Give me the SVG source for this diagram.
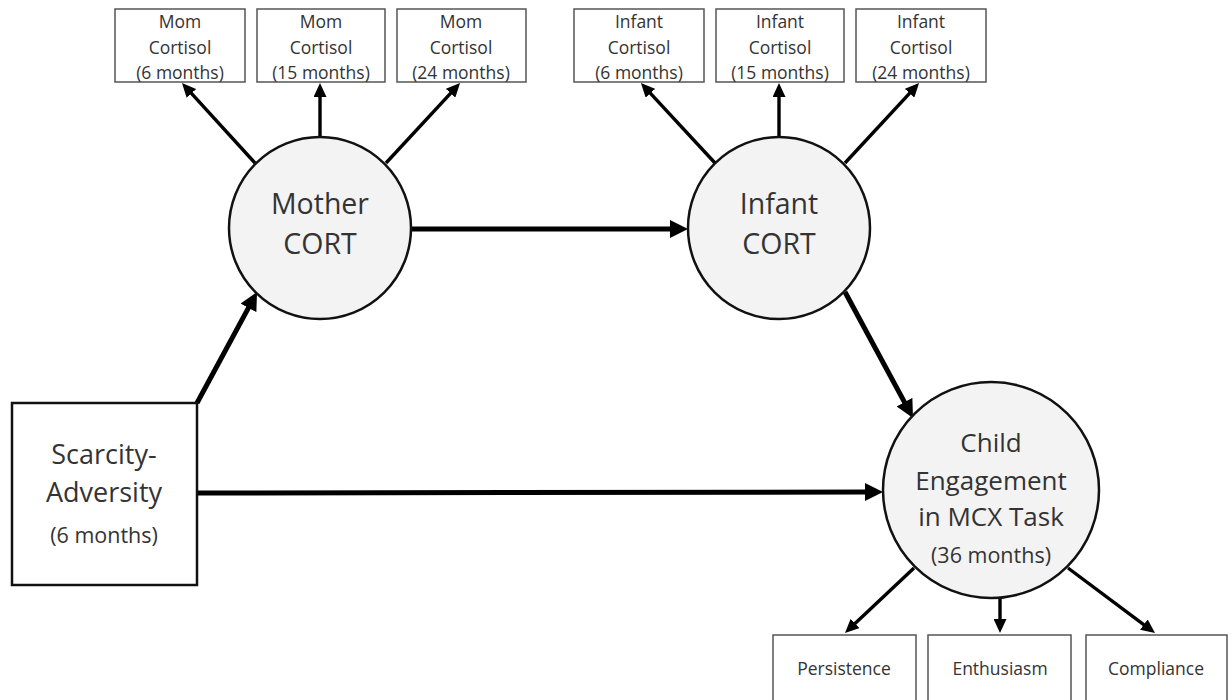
<svg xmlns="http://www.w3.org/2000/svg" width="1232" height="700" viewBox="0 0 1232 700">
<style>
text{font-family:"Open Sans","Noto Sans","DejaVu Sans",sans-serif;fill:#333;text-anchor:middle;dominant-baseline:central}
.box{fill:#fff;stroke:#555;stroke-width:1.5}
.bigbox{fill:#fff;stroke:#111;stroke-width:2.5}
.circ{fill:#f3f3f3;stroke:#111;stroke-width:2.5}
.thick{stroke:#000;stroke-width:5;fill:none;marker-end:url(#hb)}
.thin{stroke:#000;stroke-width:3.4;fill:none;marker-end:url(#hs)}
.s{font-size:17.5px}
.l{font-size:28.5px}
.sc{font-size:27px}
.m{font-size:26px}
.ms{font-size:21.5px}
</style>
<defs>
<marker id="hb" markerUnits="userSpaceOnUse" markerWidth="20" markerHeight="18" refX="2" refY="9" orient="auto"><path d="M0,0 L18,9 L0,18 z" fill="#000"/></marker>
<marker id="hs" markerUnits="userSpaceOnUse" markerWidth="15" markerHeight="13" refX="2" refY="6.5" orient="auto"><path d="M0,0 L14,6.5 L0,13 z" fill="#000"/></marker>
</defs>
<rect width="1232" height="700" fill="#fff"/>
<g id="connectors">
<line class="thick" x1="197" y1="403" x2="249.4" y2="306.1"/>
<line class="thick" x1="411" y1="229" x2="672" y2="229"/>
<line class="thick" x1="845" y1="292" x2="905.4" y2="403.9"/>
<line class="thick" x1="197" y1="493" x2="867" y2="492"/>
<line class="thin" x1="255" y1="163" x2="190.1" y2="91.9"/>
<line class="thin" x1="320" y1="138" x2="320" y2="95"/>
<line class="thin" x1="386" y1="163" x2="451.9" y2="91.8"/>
<line class="thin" x1="715" y1="163" x2="649.1" y2="91.8"/>
<line class="thin" x1="779" y1="138" x2="779" y2="95"/>
<line class="thin" x1="845" y1="163" x2="910.9" y2="91.8"/>
<line class="thin" x1="914" y1="568" x2="853.7" y2="624.8"/>
<line class="thin" x1="1000" y1="595" x2="1000" y2="621"/>
<line class="thin" x1="1068" y1="568" x2="1145.4" y2="625.8"/>
</g>
<g id="mom6"><rect class="box" x="115" y="9" width="130" height="73"/><text class="s" x="180" y="21">Mom</text><text class="s" x="180" y="47">Cortisol</text><text class="s" x="180" y="72">(6 months)</text></g>
<g id="mom15"><rect class="box" x="257" y="9" width="128" height="73"/><text class="s" x="321" y="21">Mom</text><text class="s" x="321" y="47">Cortisol</text><text class="s" x="321" y="72">(15 months)</text></g>
<g id="mom24"><rect class="box" x="397" y="9" width="129" height="73"/><text class="s" x="461" y="21">Mom</text><text class="s" x="461" y="47">Cortisol</text><text class="s" x="461" y="72">(24 months)</text></g>
<g id="inf6"><rect class="box" x="574" y="9" width="130" height="73"/><text class="s" x="639" y="21">Infant</text><text class="s" x="639" y="47">Cortisol</text><text class="s" x="639" y="72">(6 months)</text></g>
<g id="inf15"><rect class="box" x="716" y="9" width="128" height="73"/><text class="s" x="780" y="21">Infant</text><text class="s" x="780" y="47">Cortisol</text><text class="s" x="780" y="72">(15 months)</text></g>
<g id="inf24"><rect class="box" x="856" y="9" width="130" height="73"/><text class="s" x="921" y="21">Infant</text><text class="s" x="921" y="47">Cortisol</text><text class="s" x="921" y="72">(24 months)</text></g>
<g id="mother"><circle class="circ" cx="320" cy="228" r="91"/><text class="l" x="320" y="203">Mother</text><text class="l" x="320" y="243">CORT</text></g>
<g id="infant"><circle class="circ" cx="779" cy="228" r="91"/><text class="l" x="779" y="203">Infant</text><text class="l" x="779" y="243">CORT</text></g>
<g id="scarcity"><rect class="bigbox" x="12" y="403" width="185" height="182"/><text class="sc" x="104" y="453">Scarcity-</text><text class="sc" x="104" y="491">Adversity</text><text class="ms" x="104" y="534">(6 months)</text></g>
<g id="child"><circle class="circ" cx="991" cy="490" r="108"/><text class="m" x="991" y="442">Child</text><text class="m" x="991" y="480">Engagement</text><text class="m" x="991" y="516">in MCX Task</text><text class="ms" x="991" y="554">(36 months)</text></g>
<g id="persistence"><rect class="box" x="773" y="635" width="143" height="75"/><text class="s" x="844" y="668">Persistence</text></g>
<g id="enthusiasm"><rect class="box" x="928" y="635" width="143" height="75"/><text class="s" x="1000" y="668">Enthusiasm</text></g>
<g id="compliance"><rect class="box" x="1086" y="635" width="141" height="75"/><text class="s" x="1156" y="668">Compliance</text></g>
</svg>
